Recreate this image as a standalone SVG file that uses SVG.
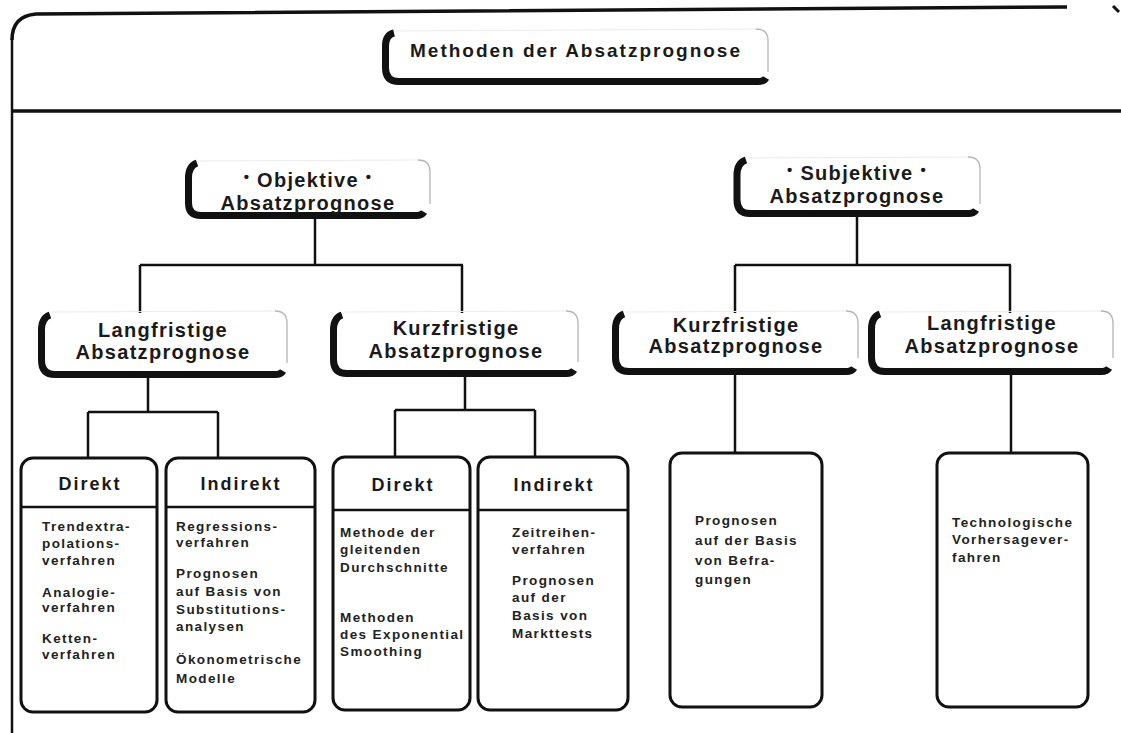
<svg xmlns="http://www.w3.org/2000/svg" width="1121" height="733" viewBox="0 0 1121 733">
<defs>
<style>
.sh{fill:none;stroke:#111;stroke-width:7}
.edge{fill:none;stroke:#b5b5b5;stroke-width:1.3}
.top{fill:none;stroke:#ececec;stroke-width:1}
.frame{fill:none;stroke:#111}
.con{fill:none;stroke:#111;stroke-width:2.5}
.box{fill:#fff;stroke:#111;stroke-width:3}
.div{stroke:#111;stroke-width:2.5}
.h{font-family:"Liberation Sans",Arial,sans-serif;font-weight:bold;font-size:20px;letter-spacing:1.3px;fill:#1a1a1a;text-anchor:middle}
.ttl{font-family:"Liberation Sans",Arial,sans-serif;font-weight:bold;font-size:19px;letter-spacing:2px;fill:#1a1a1a;text-anchor:middle}
.hd{font-family:"Liberation Sans",Arial,sans-serif;font-weight:bold;font-size:18px;letter-spacing:2px;fill:#1a1a1a;text-anchor:middle}
.b{font-family:"Liberation Sans",Arial,sans-serif;font-weight:bold;font-size:13.5px;letter-spacing:1.4px;fill:#222}
.bul{font-size:15px}
</style>
</defs>
<rect width="1121" height="733" fill="#fff"/>

<g id="frame">
<path class="frame" stroke-width="3.5" d="M 12 40 Q 12 16 36 14 L 1067 7"/>
<path class="frame" stroke-width="2.5" d="M 12 38 L 12 733"/>
<path class="frame" stroke-width="3.5" d="M 12 111 L 1121 111"/>
<path class="frame" stroke-width="3" d="M 1113 6 L 1119 12"/>
</g>

<g id="connectors">
<path class="con" d="M 315 219 V 265 M 140 265 H 463 M 140 265 V 313 M 462 265 V 313"/>
<path class="con" d="M 148 378 V 412 M 88 412 H 218 M 88 412 V 458 M 218 412 V 458"/>
<path class="con" d="M 465 377 V 410 M 395 410 H 535 M 395 410 V 457 M 535 410 V 457"/>
<path class="con" d="M 857 217 V 265 M 735 265 H 1011 M 735 265 V 313 M 1010 265 V 313"/>
<path class="con" d="M 735 375 V 453 M 1011 375 V 453"/>
</g>

<g id="title">
<path class="top" d="M 395 31 L 756 29"/>
<path class="edge" d="M 756 29 Q 768 29 768 40 L 768 72"/>
<path class="sh" d="M 394 33 Q 385.5 35 385.5 46 L 385.5 68 Q 385.5 81.5 399 81.5 L 758 81.5 Q 764 81.5 766 78"/>
<text class="ttl" x="576" y="57">Methoden der Absatzprognose</text>
</g>

<g id="objektive">
<path class="top" d="M 198 161 L 418 160"/>
<path class="edge" d="M 418 160 Q 430 160 430 172 L 430 204"/>
<path class="sh" d="M 197 163 Q 188.5 166 188.5 178 L 188.5 203 Q 188.5 215.5 201 215.5 L 416 215.5 Q 422 215.5 424 212"/>
<text class="h" x="308" y="187"><tspan class="bul" dy="-5">•</tspan><tspan dy="5"> Objektive </tspan><tspan class="bul" dy="-5">•</tspan></text>
<text class="h" x="308" y="210">Absatzprognose</text>
</g>

<g id="subjektive">
<path class="top" d="M 747 158 L 968 157"/>
<path class="edge" d="M 968 157 Q 980 157 980 169 L 980 204"/>
<path class="sh" d="M 746 160 Q 737 163 737 175 L 737 200 Q 737 213.5 750 213.5 L 968 213.5 Q 974 213.5 976 210"/>
<text class="h" x="857" y="180"><tspan class="bul" dy="-5">•</tspan><tspan dy="5"> Subjektive </tspan><tspan class="bul" dy="-5">•</tspan></text>
<text class="h" x="857" y="203">Absatzprognose</text>
</g>

<g id="lang-obj">
<path class="top" d="M 52 312 L 275 311"/>
<path class="edge" d="M 275 311 Q 287 311 287 323 L 287 363"/>
<path class="sh" d="M 50 315 Q 41.5 318 41.5 330 L 41.5 360 Q 41.5 374.5 55 374.5 L 275 374.5 Q 281 374.5 283 371"/>
<text class="h" x="163" y="337">Langfristige</text>
<text class="h" x="163" y="359">Absatzprognose</text>
</g>

<g id="kurz-obj">
<path class="top" d="M 344 312 L 566 311"/>
<path class="edge" d="M 566 311 Q 578 311 578 323 L 578 362"/>
<path class="sh" d="M 342 315 Q 333.5 318 333.5 330 L 333.5 360 Q 333.5 373.5 347 373.5 L 566 373.5 Q 572 373.5 574 370"/>
<text class="h" x="456" y="335">Kurzfristige</text>
<text class="h" x="456" y="358">Absatzprognose</text>
</g>

<g id="kurz-subj">
<path class="top" d="M 626 312 L 846 311"/>
<path class="edge" d="M 846 311 Q 858 311 858 323 L 858 358"/>
<path class="sh" d="M 624 314 Q 615.5 317 615.5 329 L 615.5 358 Q 615.5 371.5 629 371.5 L 846 371.5 Q 852 371.5 854 368"/>
<text class="h" x="736" y="332">Kurzfristige</text>
<text class="h" x="736" y="353">Absatzprognose</text>
</g>

<g id="lang-subj">
<path class="top" d="M 882 312 L 1101 311"/>
<path class="edge" d="M 1101 311 Q 1113 311 1113 323 L 1113 358"/>
<path class="sh" d="M 880 314 Q 871.5 317 871.5 329 L 871.5 358 Q 871.5 371.5 885 371.5 L 1101 371.5 Q 1107 371.5 1109 368"/>
<text class="h" x="992" y="330">Langfristige</text>
<text class="h" x="992" y="353">Absatzprognose</text>
</g>

<g id="direkt-lang">
<rect class="box" x="21" y="458" width="136" height="254" rx="12"/>
<line class="div" x1="21" y1="507" x2="157" y2="507"/>
<text class="hd" x="90" y="490">Direkt</text>
<text class="b"><tspan x="42" y="531">Trendextra-</tspan><tspan x="42" y="548">polations-</tspan><tspan x="42" y="565">verfahren</tspan><tspan x="42" y="597">Analogie-</tspan><tspan x="42" y="612">verfahren</tspan><tspan x="42" y="643">Ketten-</tspan><tspan x="42" y="659">verfahren</tspan></text>
</g>

<g id="indirekt-lang">
<rect class="box" x="166" y="458" width="149" height="254" rx="12"/>
<line class="div" x1="166" y1="507" x2="315" y2="507"/>
<text class="hd" x="241" y="490">Indirekt</text>
<text class="b"><tspan x="176" y="531">Regressions-</tspan><tspan x="176" y="547">verfahren</tspan><tspan x="176" y="578">Prognosen</tspan><tspan x="176" y="596">auf Basis von</tspan><tspan x="176" y="614">Substitutions-</tspan><tspan x="176" y="631">analysen</tspan><tspan x="176" y="664">Ökonometrische</tspan><tspan x="176" y="683">Modelle</tspan></text>
</g>

<g id="direkt-kurz">
<rect class="box" x="333" y="457" width="137" height="253" rx="12"/>
<line class="div" x1="333" y1="510" x2="470" y2="510"/>
<text class="hd" x="403" y="491">Direkt</text>
<text class="b"><tspan x="340" y="537">Methode der</tspan><tspan x="340" y="554">gleitenden</tspan><tspan x="340" y="572">Durchschnitte</tspan><tspan x="340" y="622">Methoden</tspan><tspan x="340" y="639">des Exponential</tspan><tspan x="340" y="656">Smoothing</tspan></text>
</g>

<g id="indirekt-kurz">
<rect class="box" x="478" y="457" width="150" height="253" rx="12"/>
<line class="div" x1="478" y1="510" x2="628" y2="510"/>
<text class="hd" x="554" y="491">Indirekt</text>
<text class="b"><tspan x="512" y="537">Zeitreihen-</tspan><tspan x="512" y="554">verfahren</tspan><tspan x="512" y="585">Prognosen</tspan><tspan x="512" y="602">auf der</tspan><tspan x="512" y="620">Basis von</tspan><tspan x="512" y="638">Markttests</tspan></text>
</g>

<g id="befragungen">
<rect class="box" x="670" y="453" width="152" height="254" rx="12"/>
<text class="b"><tspan x="695" y="525">Prognosen</tspan><tspan x="695" y="545">auf der Basis</tspan><tspan x="695" y="565">von Befra-</tspan><tspan x="695" y="584">gungen</tspan></text>
</g>

<g id="technologisch">
<rect class="box" x="937" y="453" width="151" height="254" rx="12"/>
<text class="b"><tspan x="952" y="527">Technologische</tspan><tspan x="952" y="544">Vorhersagever-</tspan><tspan x="952" y="562">fahren</tspan></text>
</g>
</svg>
